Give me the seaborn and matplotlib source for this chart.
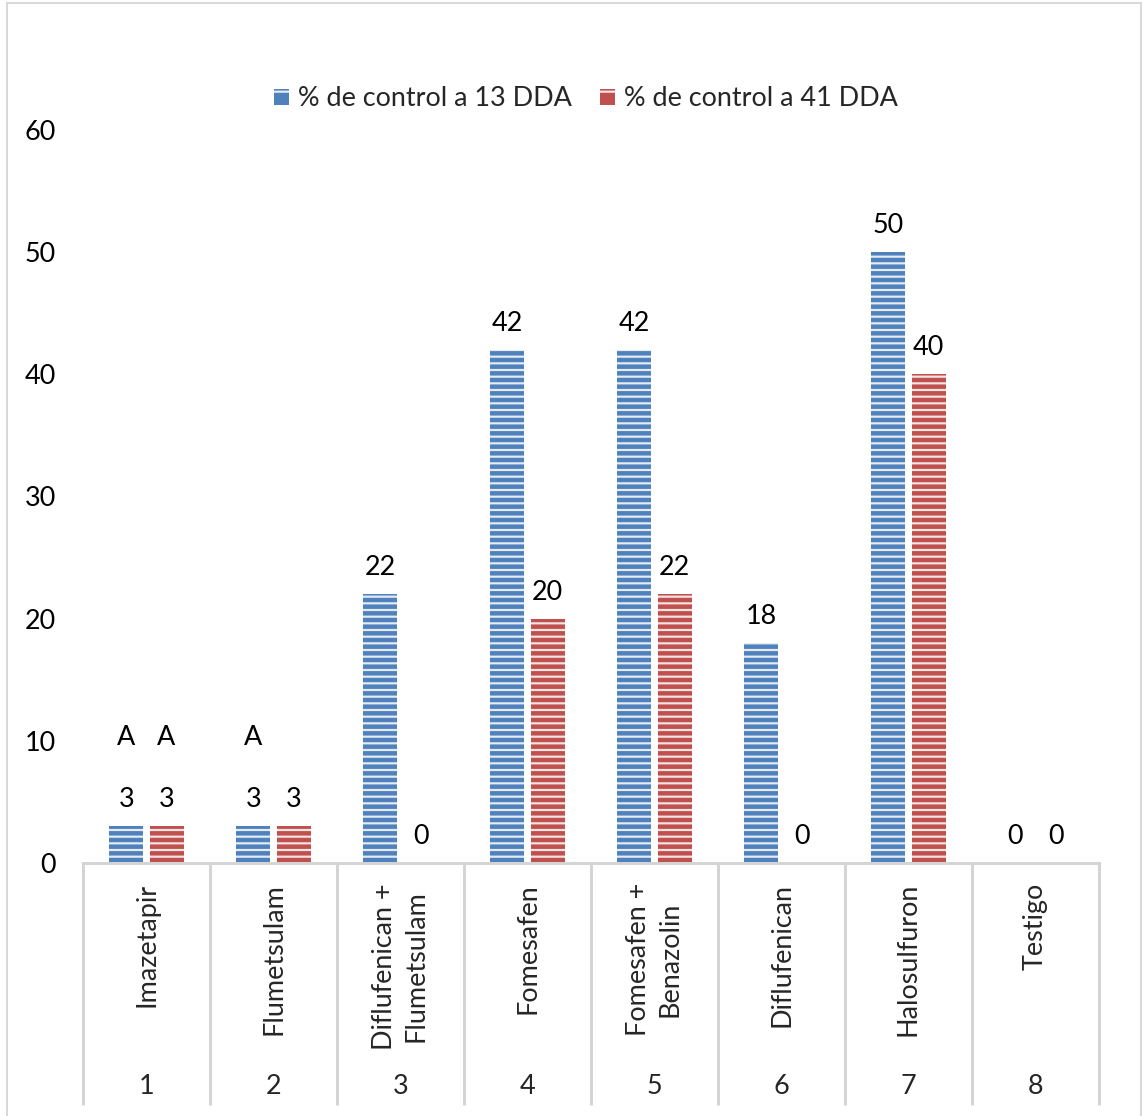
import matplotlib
matplotlib.use("Agg")
import matplotlib.pyplot as plt
from matplotlib.patches import Patch, Rectangle
import seaborn as sns
import pandas as pd

# ---- data -------------------------------------------------------------
treatments = ["Imazetapir", "Flumetsulam", "Diflufenican +\nFlumetsulam",
              "Fomesafen", "Fomesafen +\nBenazolin", "Diflufenican",
              "Halosulfuron", "Testigo"]
treatment_ids = ["1", "2", "3", "4", "5", "6", "7", "8"]
series_names = ["% de control a 13 DDA", "% de control a 41 DDA"]
control_13 = [3, 3, 22, 42, 42, 18, 50, 0]
control_41 = [3, 3, 0, 20, 22, 0, 40, 0]
letters_13 = ["A", "A", "", "", "", "", "", ""]
letters_41 = ["A", "", "", "", "", "", "", ""]
y_ticks = [0, 10, 20, 30, 40, 50, 60]
colors = ["#4F81BD", "#C0504D"]

# ---- setup -------------------------------------------------------------
DPI = 200
W_PX, H_PX = 1143, 1116


def pt(px):
    """pixels -> points at the output resolution"""
    return px * 72.0 / DPI


sns.set_style("white")
plt.rcParams["font.family"] = ["Lato", "DejaVu Sans"]
plt.rcParams["hatch.linewidth"] = pt(2.2)
FS = pt(27)
GRID_GREY = "#d4d4d4"

df = pd.DataFrame({
    "id": treatment_ids * 2,
    "serie": [series_names[0]] * len(control_13) + [series_names[1]] * len(control_41),
    "valor": control_13 + control_41,
})

fig = plt.figure(figsize=(W_PX / DPI, H_PX / DPI), dpi=DPI)
ax = fig.add_axes([83 / W_PX, 1 - 863 / H_PX, (1099 - 83) / W_PX, (863 - 130) / H_PX])

sns.barplot(data=df, x="id", y="valor", hue="serie", order=treatment_ids,
            hue_order=series_names, palette=colors, width=0.63, gap=0.15,
            saturation=1, legend=False, ax=ax)

# striped fill
stripe = (1, 1, 1, 0.85)
for bar in ax.patches:
    bar.set_hatch("-----")
    bar.set_edgecolor(stripe)
    bar.set_linewidth(0)

ax.set_xlim(-0.5, len(treatments) - 0.5)
ax.set_ylim(0, 60)
ax.set_yticks(y_ticks)
ax.tick_params(axis="y", length=0, pad=pt(27), labelsize=FS, labelcolor="black")
ax.tick_params(axis="x", length=0, labelbottom=False)
ax.set_xlabel("")
ax.set_ylabel("")
for side in ("left", "top", "right"):
    ax.spines[side].set_visible(False)
ax.spines["bottom"].set_color(GRID_GREY)
ax.spines["bottom"].set_linewidth(pt(3))

# value labels and letters above bars
for container, letters in zip(ax.containers, [letters_13, letters_41]):
    for rect, letter in zip(container, letters):
        xc = rect.get_x() + rect.get_width() / 2
        top = rect.get_height()
        ax.annotate(f"{top:g}", (xc, top), xytext=(0, pt(19)),
                    textcoords="offset points", ha="center", va="baseline",
                    fontsize=FS, color="black")
        if letter:
            ax.annotate(letter, (xc, top), xytext=(0, pt(81)),
                        textcoords="offset points", ha="center", va="baseline",
                        fontsize=FS, color="black")

# two-level category axis
xt = ax.get_xaxis_transform()
sep_depth = (1105 - 863) / (863 - 130)
for b in range(len(treatments) + 1):
    ax.plot([b - 0.5, b - 0.5], [0, -sep_depth], transform=xt, clip_on=False,
            color=GRID_GREY, lw=pt(3), solid_capstyle="butt")
for i, (name, num) in enumerate(zip(treatments, treatment_ids)):
    ax.annotate(name, (i, 0), xycoords=xt, xytext=(0, -pt(20)),
                textcoords="offset points", rotation=90, ha="center", va="top",
                multialignment="center", linespacing=1.3, fontsize=FS)
    ax.annotate(num, (i, 0), xycoords=xt, xytext=(0, -pt(223)),
                textcoords="offset points", ha="center", va="center", fontsize=FS)

# legend
handles = [Patch(facecolor=c, edgecolor=stripe, hatch="--", linewidth=0) for c in colors]
fig.legend(handles, series_names, loc="center", ncol=2, frameon=False,
           bbox_to_anchor=(586 / W_PX, 1 - 99 / H_PX), fontsize=FS,
           handlelength=0.55, handleheight=0.55, handletextpad=0.35,
           columnspacing=1.05)

# chart-area border
fig.add_artist(Rectangle((7 / W_PX, -0.01), (1141 - 7) / W_PX, 1.01 - 3 / H_PX,
                         transform=fig.transFigure, fill=False,
                         edgecolor="#d9d9d9", lw=pt(2)))

fig.savefig("out.png", dpi=DPI)
